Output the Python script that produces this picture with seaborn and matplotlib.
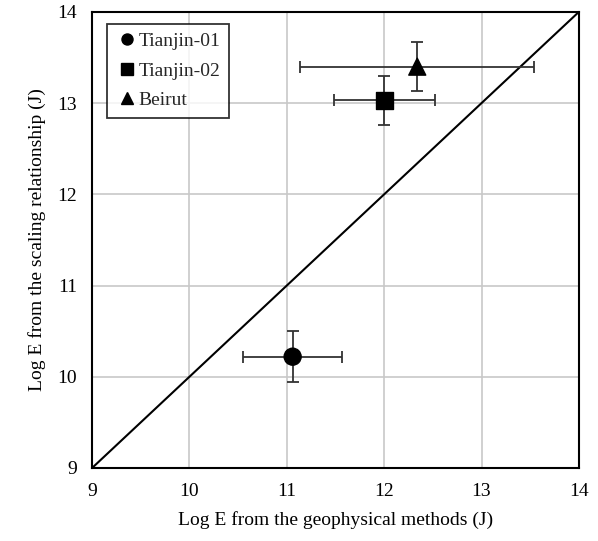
import pandas as pd
import seaborn as sns
import matplotlib.pyplot as plt

# values
names = ['Tianjin-01', 'Tianjin-02', 'Beirut']
geo_logE = [11.06, 12.00, 12.34]
geo_err = [0.51, 0.52, 1.20]
scaling_logE = [10.22, 13.03, 13.40]
scaling_err = [0.28, 0.27, 0.27]
markers = {'Tianjin-01': 'o', 'Tianjin-02': 's', 'Beirut': '^'}

df = pd.DataFrame({'event': names, 'geo': geo_logE, 'scale': scaling_logE,
                   'xerr': geo_err, 'yerr': scaling_err})

sns.set_style('white')
plt.rcParams['font.family'] = ['Liberation Serif', 'DejaVu Serif']

fig = plt.figure(figsize=(5.98, 5.41), dpi=100)
ax = fig.add_axes([0.154, 0.135, 0.814, 0.843])

ax.grid(True, color='#c8c8c8', linewidth=1.2, zorder=0)
ax.set_axisbelow(True)

# 1:1 line
ax.plot([9, 14], [9, 14], color='black', linewidth=1.5, zorder=2)

ax.errorbar(df['geo'], df['scale'], xerr=df['xerr'], yerr=df['yerr'], fmt='none',
            ecolor='#333333', elinewidth=1.3, capsize=4, capthick=1.3, zorder=3)

sns.scatterplot(data=df, x='geo', y='scale', style='event', markers=markers,
                color='black', s=150, edgecolor='black', ax=ax, zorder=4)

ax.set_xlim(9, 14)
ax.set_ylim(9, 14)
ax.set_xticks(range(9, 15))
ax.set_yticks(range(9, 15))
ax.tick_params(labelsize=14, length=0, pad=11, labelcolor='black')
for sp in ax.spines.values():
    sp.set_color('black')
    sp.set_linewidth(1.5)

ax.set_xlabel('Log E from the geophysical methods (J)', fontsize=14, labelpad=8, color='black')
ax.set_ylabel('Log E from the scaling relationship (J)', fontsize=14, labelpad=8, color='black')

leg = ax.legend(loc='upper left', fontsize=14, frameon=True, fancybox=False,
                edgecolor='black', handletextpad=0.0, borderpad=0.45,
                labelspacing=0.6, markerscale=0.65, handlelength=1.2,
                bbox_to_anchor=(0.01, 0.995))
leg.get_frame().set_linewidth(1.3)

fig.savefig('out.png', dpi=100)
